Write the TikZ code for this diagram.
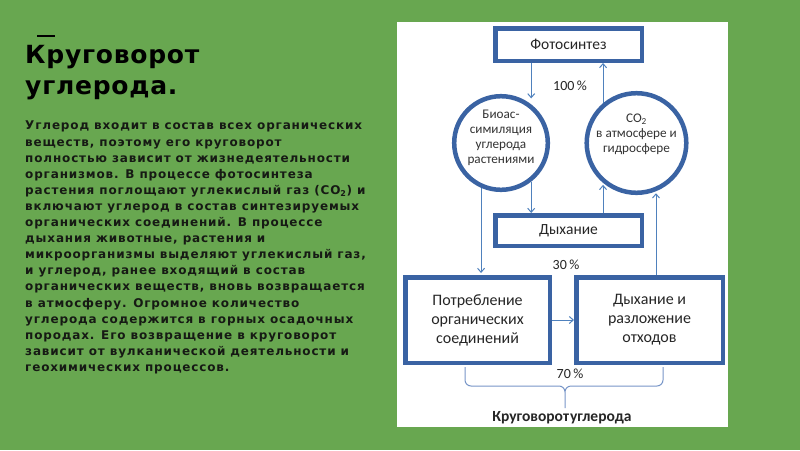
\documentclass[tikz,border=0pt]{standalone}
\usepackage{fontspec}
\setmainfont{DejaVu Sans}
\newfontfamily\bodyfont{DejaVu Sans}[LetterSpace=7]
\newfontfamily\titlefont{DejaVu Sans}[LetterSpace=3]
\newfontfamily\diafont{Carlito}
\usetikzlibrary{arrows.meta,calc}

\definecolor{slidegreen}{RGB}{104,167,80}
\definecolor{boxblue}{RGB}{58,99,163}
\definecolor{arrowblue}{RGB}{79,129,189}
\definecolor{braceblue}{RGB}{120,150,200}
\definecolor{bodytext}{RGB}{22,26,20}

\tikzset{
	stage/.style={draw=boxblue,line width=4.5pt,fill=white,inner sep=2pt,
		font=\diafont\fontsize{16}{19}\selectfont,text=black!85,align=center},
	pool/.style={circle,draw=boxblue,line width=4.5pt,fill=white,inner sep=0pt,
		minimum size=89pt,font=\diafont\fontsize{13.2}{15}\selectfont,text=black!80,align=center},
	flow/.style={draw=arrowblue,line width=1pt,-{Straight Barb[length=4pt,width=7pt]}},
	share/.style={font=\diafont\fontsize{14}{16}\selectfont,text=black!85},
}

\begin{document}
\begin{tikzpicture}[x=1pt,y=-1pt]
	\useasboundingbox (0,0) rectangle (800,450);
	\fill[slidegreen] (0,0) rectangle (800,450);
	\fill[white] (397,22) rectangle (728,427);
	\path
	(568.5,44.5) coordinate (F)
	(501,143) coordinate (B)
	(636.5,143) coordinate (C)
	(568.5,230.5) coordinate (D)
	(477.5,320) coordinate (P)
	(649.5,320) coordinate (R)
	;
	% left text
	\node[anchor=north west,inner sep=0pt,align=left,
		font=\titlefont\bfseries\fontsize{25}{31}\selectfont] (title) at (25,45)
		{Круговорот\\углерода.};
	\draw[line width=2pt] (37,36) -- (55,36);
	\node[anchor=north west,inner sep=0pt,align=left,text=bodytext,
		font=\bodyfont\bfseries\fontsize{12}{16.1}\selectfont] (body) at (25,121)
		{Углерод входит в состав всех органических\\
		веществ, поэтому его круговорот\\
		полностью зависит от жизнедеятельности\\
		организмов. В процессе фотосинтеза\\
		растения поглощают углекислый газ (CO\textsubscript{2}) и\\
		включают углерод в состав синтезируемых\\
		органических соединений. В процессе\\
		дыхания животные, растения и\\
		микроорганизмы выделяют углекислый газ,\\
		и углерод, ранее входящий в состав\\
		органических веществ, вновь возвращается\\
		в атмосферу. Огромное количество\\
		углерода содержится в горных осадочных\\
		породах. Его возвращение в круговорот\\
		зависит от вулканической деятельности и\\
		геохимических процессов.};
	% diagram
	\node[stage,font=\diafont\fontsize{15.5}{19}\selectfont,
		minimum width=146.5pt,minimum height=32.5pt] (foto) at (F) {Фотосинтез};
	\node[pool] (bio) at (B) {Биоас-\\симиляция\\углерода\\растениями\\[-3pt]\mbox{}};
	\node[pool] (co) at (C) {CO\textsubscript{2}\\в атмосфере и\\гидросфере\\[5pt]\mbox{}};
	\node[stage,font=\diafont\fontsize{15.5}{19}\selectfont,
		minimum width=146.5pt,minimum height=30.5pt] (dyh) at (D) {Дыхание};
	\node[stage,minimum width=144.5pt,minimum height=85.5pt] (potr) at (P)
		{Потребление\\органических\\соединений};
	\node[stage,minimum width=146.5pt,minimum height=85.5pt] (razl) at (R)
		{Дыхание и\\разложение\\отходов};
	\draw[flow,shorten >=6pt] (bio.52 |- foto.south) -- (bio.52);
	\draw[flow] (co.130) -- (co.130 |- foto.south);
	\draw[flow] (bio.-52) -- (bio.-52 |- dyh.north);
	\draw[flow,shorten >=2pt] (co.230 |- dyh.north) -- (co.230);
	\draw[flow,shorten >=2pt] (bio.246) -- (bio.246 |- potr.north);
	\draw[flow,shorten >=2pt] (co.-68 |- razl.north) -- (co.-68);
	\draw[flow] (potr.east) -- (razl.west);
	\node[share] (p100) at (570,86) {100\,\%};
	\node[share] (p30) at (566,265) {30\,\%};
	\node[share] (p70) at (570,374) {70\,\%};
	% brace under the two boxes
	\draw[braceblue,line width=1pt,rounded corners=6pt]
		(465,367) |- (565,386) -- (565,408)
		(663,367) |- (565,386) -- (565,408);
	\node[font=\diafont\bfseries\fontsize{15.5}{16}\selectfont,text=black!85] (cap) at (562,418)
		{Круговорот\hspace{1pt}углерода};
\end{tikzpicture}
\end{document}
